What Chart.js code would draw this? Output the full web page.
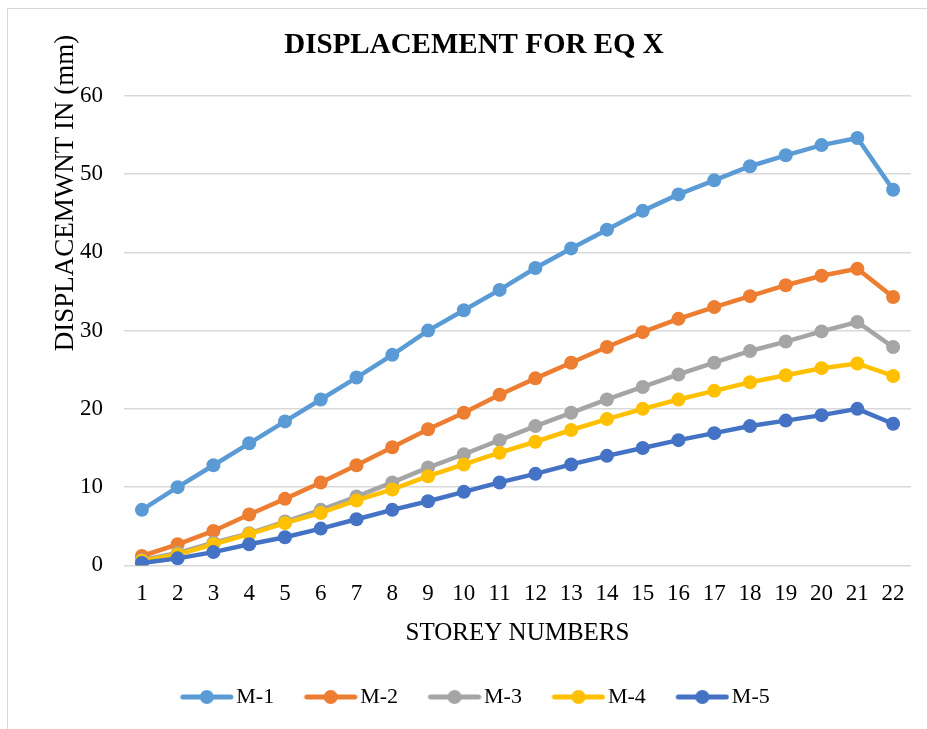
<!DOCTYPE html>
<html>
<head>
<meta charset="utf-8">
<script src="https://cdn.jsdelivr.net/npm/chart.js@4/dist/chart.umd.min.js"></script>
<style>
  body { margin: 0; background: #fff; }
  #frame { position: absolute; left: 7px; top: 8px; width: 960px; height: 760px; border: 1px solid #d9d9d9; }
  #wrap { position: absolute; left: 0; top: 0; width: 927px; height: 729px; }
</style>
</head>
<body>
<div id="frame"></div>
<div id="wrap"><canvas id="dispchart" width="927" height="729"></canvas></div>
<script>
const storeys = ["1","2","3","4","5","6","7","8","9","10","11","12","13","14","15","16","17","18","19","20","21","22"];
const m1 = [7.1,10.0,12.8,15.6,18.4,21.2,24.0,26.9,30.0,32.6,35.2,38.0,40.5,42.9,45.3,47.4,49.2,51.0,52.4,53.7,54.6,48.0];
const m2 = [1.2,2.7,4.4,6.5,8.5,10.6,12.8,15.1,17.4,19.5,21.8,23.9,25.9,27.9,29.8,31.5,33.0,34.4,35.8,37.0,37.9,34.3];
const m3 = [0.7,1.6,2.9,4.1,5.6,7.1,8.8,10.6,12.5,14.2,16.0,17.8,19.5,21.2,22.8,24.4,25.9,27.4,28.6,29.9,31.1,27.9];
const m4 = [0.6,1.4,2.7,4.0,5.4,6.7,8.3,9.7,11.4,12.9,14.4,15.8,17.3,18.7,20.0,21.2,22.3,23.4,24.3,25.2,25.8,24.2];
const m5 = [0.3,0.9,1.7,2.7,3.6,4.7,5.9,7.1,8.2,9.4,10.6,11.7,12.9,14.0,15.0,16.0,16.9,17.8,18.5,19.2,20.0,18.1];
const seriesNames = ["M-1","M-2","M-3","M-4","M-5"];
const colors = ["#5B9BD5","#ED7D31","#A5A5A5","#FFC000","#4472C4"];

const serif = "'Liberation Serif', 'Times New Roman', serif";

// legend sample: line with a dot, drawn into a small canvas
function legendSample(color){
    const c = document.createElement("canvas");
    c.width = 80; c.height = 16;
    const g = c.getContext("2d");
    g.strokeStyle = color;
    g.lineWidth = 5;
    g.lineCap = "round";
    g.beginPath();
    g.moveTo(29, 8); g.lineTo(77, 8);
    g.stroke();
    g.fillStyle = color;
    g.beginPath();
    g.arc(53, 8, 7, 0, Math.PI*2);
    g.fill();
    return c;
}
const samples = colors.map(legendSample);

const yTitle = {
    id: "yTitle",
    afterLayout(chart){
        // nudge the legend row a little to the left, like the original
        chart.legend.left -= 8;
        chart.legend.right -= 8;
    },
    afterDraw(chart){
        const ctx = chart.ctx;
        ctx.save();
        ctx.translate(66, 193);
        ctx.rotate(-Math.PI/2);
        ctx.font = "27px " + serif;
        ctx.fillStyle = "#000";
        ctx.textAlign = "center";
        ctx.textBaseline = "middle";
        ctx.fillText("DISPLACEMWNT IN (mm)", 0, 0);
        ctx.restore();
    }
};

const lists = [m1, m2, m3, m4, m5];
const datasets = lists.map((vals, i) => ({
    label: seriesNames[i],
    data: vals,
    borderColor: colors[i],
    backgroundColor: colors[i],
    borderWidth: 4.5,
    pointRadius: 7,
    pointHoverRadius: 7,
    pointBorderWidth: 0,
    pointStyle: "circle",
    tension: 0,
    order: 5 - i
}));

const chart = new Chart(document.getElementById("dispchart"), {
    type: "line",
    data: { labels: storeys, datasets: datasets },
    options: {
        responsive: false,
        animation: false,
        layout: { padding: { left: 37, right: 16, top: 20, bottom: 11 } },
        plugins: {
            title: {
                display: true,
                text: "DISPLACEMENT FOR EQ X",
                color: "#000",
                font: { family: serif, size: 29, weight: "bold" },
                padding: { top: 8, bottom: 33 }
            },
            legend: {
                position: "bottom",
                labels: {
                    usePointStyle: true,
                    pointStyleWidth: 63,
                    padding: 12,
                    color: "#000",
                    font: { family: serif, size: 22 },
                    sort: (a, b) => a.datasetIndex - b.datasetIndex,
                    generateLabels(ch){
                        const items = Chart.defaults.plugins.legend.labels.generateLabels(ch);
                        items.forEach(it => { it.pointStyle = samples[it.datasetIndex]; });
                        return items;
                    }
                }
            },
            tooltip: { enabled: false }
        },
        scales: {
            x: {
                offset: true,
                grid: { display: false, drawTicks: false },
                border: { display: false },
                ticks: { color: "#000", padding: 15, maxRotation: 0, autoSkip: false, font: { family: serif, size: 23 } },
                title: {
                    display: true,
                    text: "STOREY NUMBERS",
                    color: "#000",
                    font: { family: serif, size: 25 },
                    padding: { top: -5, bottom: 26 }
                }
            },
            y: {
                min: 0,
                max: 60,
                afterFit(scale){ scale.width = 87; },
                grid: { color: "#d9d9d9", lineWidth: 1.5, drawTicks: false },
                border: { display: false },
                ticks: { stepSize: 10, color: "#000", padding: 21, font: { family: serif, size: 23 } }
            }
        }
    },
    plugins: [yTitle]
});
</script>
</body>
</html>
